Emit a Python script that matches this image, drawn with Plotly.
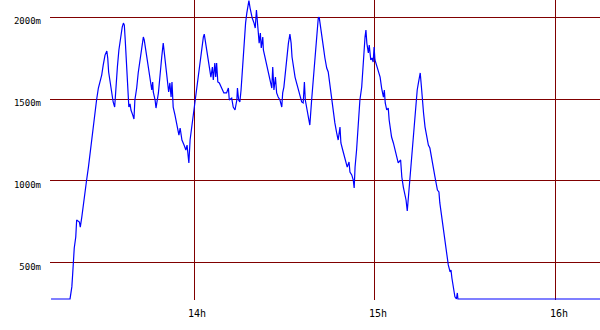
import pandas as pd
import plotly.graph_objects as go

# minutes after 13:00
minutes = [12.6, 18.9, 19.0, 19.5, 19.8, 20.0, 20.3, 20.8, 21.1, 22.0, 22.3, 22.8, 23.4, 24.1, 24.4, 25.0, 25.4, 26.0, 26.4, 27.0,
           27.7, 28.3, 29.4, 29.9, 30.5, 31.1, 31.4, 31.7, 32.2, 32.7, 33.2, 33.7, 34.0, 34.6, 35.1, 35.7, 36.2, 36.6, 36.9, 37.2,
           37.7, 38.0, 38.4, 38.8, 39.1, 39.7, 40.1, 40.4, 41.0, 41.5, 42.1, 42.7, 43.2, 43.5, 44.0, 44.4, 45.0, 45.4, 46.0, 46.3,
           46.5, 47.1, 47.4, 48.2, 48.7, 49.3, 49.8, 50.3, 50.7, 51.2, 51.6, 52.0, 52.4, 52.7, 53.1, 53.7, 54.4, 55.0, 55.4, 56.0,
           56.7, 57.3, 57.7, 58.0, 58.3, 58.7, 59.2, 59.8, 60.3, 60.9, 61.4, 62.0, 62.6, 63.1, 63.4, 63.9, 64.2, 64.7, 65.3, 65.6,
           66.1, 66.4, 66.9, 67.2, 67.5, 67.9, 68.4, 69.2, 69.9, 70.8, 71.4, 71.7, 72.5, 73.0, 73.6, 74.2, 74.4, 74.8, 75.2, 75.6,
           76.0, 76.3, 76.8, 77.1, 77.5, 77.9, 78.2, 78.6, 78.9, 79.3, 79.9, 80.3, 80.7, 81.0, 81.3, 81.6, 82.0, 82.3, 82.8, 83.0,
           83.5, 84.1, 84.6, 85.2, 85.8, 86.1, 86.5, 87.0, 87.4, 87.9, 88.5, 89.1, 89.4, 89.8, 90.3, 90.7, 91.3, 91.8, 92.2, 92.5,
           92.9, 93.5, 94.0, 94.6, 95.1, 95.7, 96.2, 96.6, 96.9, 97.4, 97.9, 98.4, 99.0, 99.5, 100.1, 100.7, 101.2, 101.5, 101.9, 102.3,
           102.9, 103.4, 104.0, 104.5, 105.1, 105.6, 106.2, 106.7, 107.3, 107.8, 108.4, 108.7, 109.3, 109.7, 110.3, 110.8, 111.4, 111.7, 112.3, 112.8,
           113.1, 113.4, 113.9, 114.5, 115.0, 115.6, 116.1, 116.7, 117.0, 117.3, 117.8, 118.1, 118.6, 119.0, 119.4, 119.7, 120.0, 120.6, 121.1, 121.7,
           122.2, 122.8, 123.1, 123.4, 123.9, 124.4, 124.7, 125.0, 125.5, 126.1, 126.6, 127.2, 127.7, 128.5, 128.9, 129.4, 129.9, 130.3, 130.7, 131.0,
           131.4, 131.8, 132.4, 132.8, 133.3, 133.6, 134.0, 134.4, 134.7, 135.0, 135.4, 135.7, 136.1, 136.6, 137.1, 137.7, 138.2, 138.8, 139.3, 139.9,
           140.7, 141.2, 141.5, 142.1, 142.6, 143.2, 143.8, 144.3, 144.9, 145.2, 145.5, 146.0, 146.5, 147.0, 147.3, 147.5, 194.6]

altitude = [280, 280, 293, 354, 439, 500, 591, 658, 762, 750, 719, 780, 854, 945, 1006, 1085, 1146, 1250, 1311, 1415,
            1494, 1567, 1646, 1707, 1768, 1793, 1750, 1665, 1598, 1524, 1482, 1451, 1555, 1695, 1799, 1878, 1939, 1963, 1951, 1860,
            1695, 1555, 1451, 1470, 1433, 1402, 1378, 1494, 1567, 1659, 1738, 1817, 1878, 1860, 1799, 1738, 1665, 1598, 1555, 1604,
            1543, 1494, 1445, 1537, 1659, 1756, 1841, 1756, 1665, 1598, 1543, 1598, 1512, 1604, 1451, 1402, 1341, 1280, 1323, 1250,
            1219, 1189, 1219, 1128, 1110, 1250, 1323, 1402, 1494, 1555, 1634, 1720, 1799, 1878, 1896, 1841, 1781, 1738, 1665, 1634,
            1695, 1616, 1720, 1634, 1720, 1604, 1598, 1567, 1537, 1537, 1567, 1494, 1506, 1451, 1433, 1494, 1567, 1494, 1482, 1555,
            1677, 1781, 1902, 1963, 2024, 2073, 2100, 2055, 2024, 1994, 1963, 1933, 2043, 1939, 1909, 1841, 1902, 1811, 1878, 1799,
            1756, 1720, 1677, 1616, 1567, 1695, 1555, 1634, 1537, 1512, 1494, 1451, 1537, 1573, 1677, 1756, 1841, 1896, 1841, 1756,
            1695, 1634, 1598, 1555, 1512, 1482, 1476, 1604, 1494, 1433, 1384, 1341, 1494, 1598, 1738, 1878, 1994, 2000, 1939, 1878,
            1817, 1750, 1689, 1665, 1573, 1494, 1415, 1354, 1293, 1250, 1329, 1232, 1189, 1158, 1128, 1085, 1116, 1055, 1037, 1006,
            957, 1085, 1189, 1329, 1494, 1573, 1738, 1878, 1921, 1841, 1781, 1829, 1738, 1750, 1726, 1817, 1738, 1695, 1665, 1634,
            1567, 1512, 1555, 1476, 1433, 1445, 1372, 1329, 1268, 1232, 1189, 1146, 1110, 1128, 1024, 963, 927, 884, 817, 884,
            988, 1067, 1189, 1293, 1402, 1494, 1555, 1598, 1646, 1659, 1573, 1494, 1415, 1329, 1268, 1219, 1201, 1146, 1085, 1024,
            945, 933, 866, 780, 701, 622, 561, 488, 445, 457, 408, 354, 293, 280, 317, 280, 280]

tick_hours = [14, 15, 16]
tick_labels = ["14h", "15h", "16h"]
alt_ticks = [500, 1000, 1500, 2000]
alt_labels = ["500m", "1000m", "1500m", "2000m"]

base = pd.Timestamp("2024-01-01 13:00:00")
times = base + pd.to_timedelta(minutes, unit="m")
tick_times = [base + pd.Timedelta(hours=h - 13) for h in tick_hours]
x_range = [base + pd.Timedelta(minutes=12.26), base + pd.Timedelta(minutes=194.6)]

fig = go.Figure()
fig.add_trace(go.Scatter(x=times, y=altitude, mode="lines",
                         line=dict(color="#0000ff", width=1.2), hoverinfo="skip"))

fig.update_layout(
    width=600, height=330,
    margin=dict(l=50, r=0, t=0, b=30),
    paper_bgcolor="white", plot_bgcolor="white",
    showlegend=False,
    font=dict(family="DejaVu Sans Mono", color="black"),
)
fig.update_xaxes(
    range=x_range, tickvals=tick_times, ticktext=tick_labels,
    showgrid=True, gridcolor="#800000", gridwidth=1,
    zeroline=False, showline=False, ticks="",
    tickfont=dict(size=10), ticklabelstandoff=6, ticklabelshift=3,
)
fig.update_yaxes(
    range=[274, 2104], tickvals=alt_ticks, ticktext=alt_labels,
    showgrid=True, gridcolor="#800000", gridwidth=1,
    zeroline=False, showline=False, ticks="",
    tickfont=dict(size=9), ticklabelstandoff=8, ticklabelshift=4,
)

fig.write_html("out.html")
